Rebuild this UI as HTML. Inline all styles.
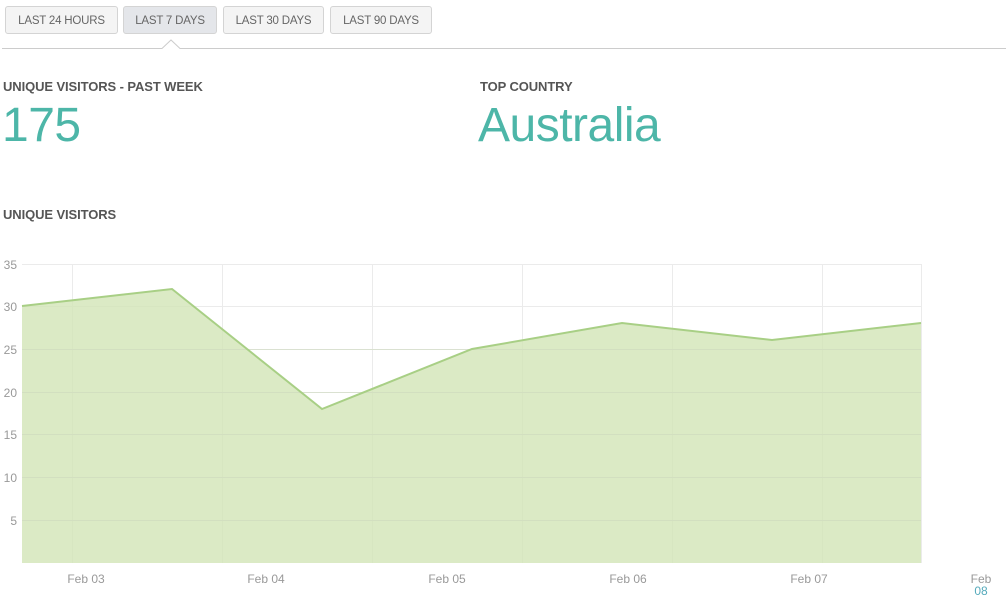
<!DOCTYPE html>
<html><head><style>
body{margin:0;width:1006px;height:606px;background:#fff;font-family:"Liberation Sans",sans-serif;overflow:hidden;position:relative}
.b{position:absolute;top:6px;height:28px;border:1px solid #d4d4d4;border-radius:3px;background:#f4f4f4;color:#666;font-size:11.5px;line-height:28px;text-align:center;letter-spacing:-0.2px;box-sizing:border-box}
.h{position:absolute;font-size:13px;font-weight:bold;color:#555;letter-spacing:-0.1px}
.big{position:absolute;font-size:48px;color:#4db6a8;font-weight:300;letter-spacing:-0.5px}
</style></head><body>
<div class="b" style="left:5px;width:113px">LAST 24 HOURS</div>
<div class="b" style="left:123px;width:94px;background:#e4e6ea">LAST 7 DAYS</div>
<div class="b" style="left:223px;width:101px">LAST 30 DAYS</div>
<div class="b" style="left:330px;width:102px">LAST 90 DAYS</div>
<svg style="position:absolute;left:0;top:0" width="1006" height="606">
<path d="M2 48.5H162L171 40L180 48.5H1006" fill="#fff" stroke="#ccc" stroke-width="1"/>
<g stroke="#ebebeb" stroke-width="1">
<line x1="22" x2="921" y1="264.5" y2="264.5"/><line x1="22" x2="921" y1="306.5" y2="306.5"/>
<line x1="22" x2="921" y1="349.5" y2="349.5"/><line x1="22" x2="921" y1="392.5" y2="392.5"/>
<line x1="22" x2="921" y1="434.5" y2="434.5"/><line x1="22" x2="921" y1="477.5" y2="477.5"/>
<line x1="22" x2="921" y1="520.5" y2="520.5"/>
<line x1="72.5" x2="72.5" y1="264" y2="563"/><line x1="222.5" x2="222.5" y1="264" y2="563"/>
<line x1="372.5" x2="372.5" y1="264" y2="563"/><line x1="522.5" x2="522.5" y1="264" y2="563"/>
<line x1="672.5" x2="672.5" y1="264" y2="563"/><line x1="822.5" x2="822.5" y1="264" y2="563"/>
<line x1="921.5" x2="921.5" y1="264" y2="563"/>
</g>
<path d="M22 306L172 289L322 409L472 349L622 323L772 340L921 323V563H22Z" fill="#d2e5b6" fill-opacity="0.8"/>
<g stroke="#d0dcc0" stroke-width="1" opacity="0.6">
<line x1="22" x2="921" y1="349.5" y2="349.5"/><line x1="22" x2="921" y1="392.5" y2="392.5"/>
<line x1="22" x2="921" y1="434.5" y2="434.5"/><line x1="22" x2="921" y1="477.5" y2="477.5"/>
<line x1="22" x2="921" y1="520.5" y2="520.5"/>
</g>
<path d="M22 306L172 289L322 409L472 349L622 323L772 340L921 323" fill="none" stroke="#a8cf85" stroke-width="2"/>
<g font-size="12" fill="#999" font-family="Liberation Sans,sans-serif">
<text x="17" y="269" text-anchor="end">35</text><text x="17" y="311" text-anchor="end">30</text>
<text x="17" y="354" text-anchor="end">25</text><text x="17" y="397" text-anchor="end">20</text>
<text x="17" y="439" text-anchor="end">15</text><text x="17" y="482" text-anchor="end">10</text>
<text x="17" y="525" text-anchor="end">5</text>
<text x="86" y="583" text-anchor="middle">Feb 03</text><text x="266" y="583" text-anchor="middle">Feb 04</text>
<text x="447" y="583" text-anchor="middle">Feb 05</text><text x="628" y="583" text-anchor="middle">Feb 06</text>
<text x="809" y="583" text-anchor="middle">Feb 07</text><text x="981" y="583" text-anchor="middle">Feb</text>
<text x="981" y="595" text-anchor="middle" fill="#5ab">08</text>
</g>
</svg>
<div class="h" style="left:3px;top:79px">UNIQUE VISITORS - PAST WEEK</div>
<div class="big" style="left:2px;top:98px">175</div>
<div class="h" style="left:480px;top:79px">TOP COUNTRY</div>
<div class="big" style="left:478px;top:98px">Australia</div>
<div class="h" style="left:3px;top:207px">UNIQUE VISITORS</div>
</body></html>
